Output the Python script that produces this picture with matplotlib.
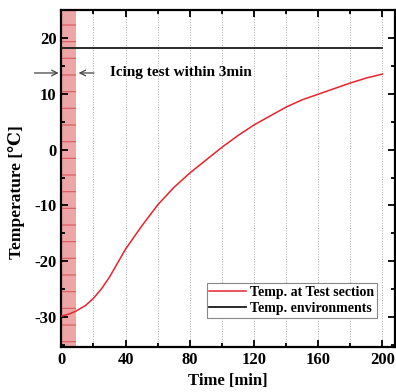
import numpy as np
import matplotlib.pyplot as plt
from matplotlib.ticker import MultipleLocator

# data
time_min = [0, 5, 9, 15, 20, 25, 30, 35, 40, 50, 60, 70, 80, 90, 100, 110, 120,
            130, 140, 150, 160, 170, 180, 190, 200]
temp_test = [-29.8, -29.4, -28.9, -27.9, -26.6, -24.9, -22.8, -20.3, -17.8, -13.7,
             -9.9, -6.8, -4.2, -1.9, 0.4, 2.5, 4.4, 6.0, 7.6, 8.9, 9.9, 10.9,
             11.9, 12.8, 13.5]
env_time = [0, 200]
temp_env = [18.2, 18.2]
icing_end = 9
arrow_y = 13.7

plt.rcParams['font.family'] = ['Liberation Serif', 'DejaVu Serif']
plt.rcParams['font.weight'] = 'bold'
plt.rcParams['axes.unicode_minus'] = False
plt.rcParams['hatch.linewidth'] = 0.8

fig = plt.figure(figsize=(3.96, 3.92), dpi=100)
ax = fig.add_axes([0.155, 0.115, 0.843, 0.86])

ax.axvspan(0, icing_end, facecolor='#eea5a5', edgecolor='#d85a5a',
           hatch='-', linewidth=0, zorder=1)
ax.plot(time_min, temp_test, color='#e8232b', lw=1.1, label='Temp. at Test section', zorder=3)
ax.plot(env_time, temp_env, color='#1a1a1a', lw=1.3, label='Temp. environments', zorder=3)

# arrows marking the icing window
ax.annotate('', xy=(0, arrow_y), xytext=(-18.5, arrow_y),
            arrowprops=dict(arrowstyle='->', color='#444444', lw=0.9), annotation_clip=False)
ax.annotate('', xy=(icing_end, arrow_y), xytext=(22, arrow_y),
            arrowprops=dict(arrowstyle='->', color='#444444', lw=0.9))
ax.text(30.5, arrow_y, 'Icing test within 3min', fontsize=11, fontweight='bold',
        va='center', ha='left')

ax.set_xlim(0, 208)
ax.set_ylim(-35.3, 25)
ax.xaxis.set_major_locator(MultipleLocator(40))
ax.xaxis.set_minor_locator(MultipleLocator(20))
ax.yaxis.set_major_locator(MultipleLocator(10))
ax.yaxis.set_minor_locator(MultipleLocator(5))
ax.tick_params(which='both', direction='in', top=True, right=True, width=1.3)
ax.tick_params(which='major', length=5, labelsize=12)
ax.tick_params(which='minor', length=3)
ax.grid(True, which='both', axis='x', color='#aaaaaa', ls=':', lw=0.7)
for s in ax.spines.values():
    s.set_linewidth(1.6)

ax.set_xlabel('Time [min]', fontsize=12, fontweight='bold')
ax.set_ylabel('Temperature [\u2103]', fontsize=12.5, fontweight='bold')
ax.yaxis.set_label_coords(-0.11, 0.46)

leg = ax.legend(loc='lower right', bbox_to_anchor=(0.965, 0.065), fontsize=10,
                fancybox=False, framealpha=1, edgecolor='#888888',
                handlelength=2.6, borderpad=0.2, labelspacing=0.25, handletextpad=0.3)
leg.get_frame().set_linewidth(0.8)

fig.savefig('out.png', dpi=100)
